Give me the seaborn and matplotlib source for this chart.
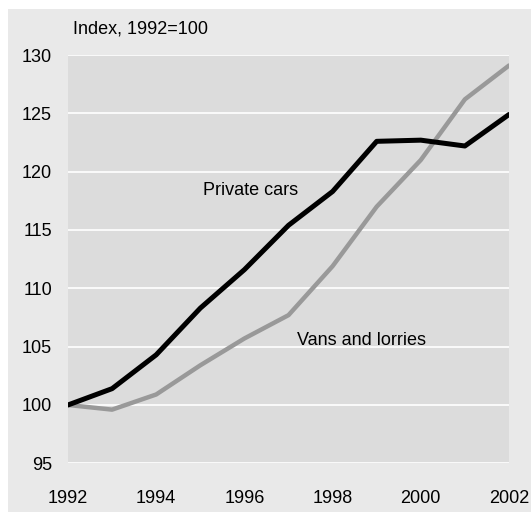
import pandas as pd
import matplotlib.pyplot as plt
import matplotlib.patches as mpatches
import seaborn as sns

# Datos (indice, 1992=100)
years = [1992, 1993, 1994, 1995, 1996, 1997, 1998, 1999, 2000, 2001, 2002]
private_cars = [100, 101.4, 104.3, 108.3, 111.6, 115.4, 118.3, 122.6, 122.7, 122.2, 124.9]
vans_lorries = [100, 99.6, 100.9, 103.4, 105.7, 107.7, 111.9, 117.0, 121.0, 126.2, 129.1]
x_ticks = [1992, 1994, 1996, 1998, 2000, 2002]
y_ticks = [95, 100, 105, 110, 115, 120, 125, 130]

df = pd.DataFrame({"Year": years, "Private cars": private_cars, "Vans and lorries": vans_lorries})

sns.set_style("white", {"axes.facecolor": "#dcdcdc"})
plt.rcParams["font.family"] = ["Liberation Sans", "DejaVu Sans"]
plt.rcParams["text.color"] = "black"

fig = plt.figure(figsize=(5.31, 5.12), dpi=100)
fig.patch.set_facecolor("white")
# Fondo gris exterior
fig.patches.append(mpatches.Rectangle((8 / 531, 0), 1 - 8 / 531, 1 - 9 / 512,
                                      transform=fig.transFigure, facecolor="#e9e9e9",
                                      edgecolor="none", zorder=-10))

ax = fig.add_axes([68 / 531, (512 - 463.3) / 512, (509 - 68) / 531, (463.3 - 55) / 512])

sns.lineplot(data=df, x="Year", y="Vans and lorries", color="#999999", linewidth=3.2, ax=ax)
sns.lineplot(data=df, x="Year", y="Private cars", color="black", linewidth=3.6, ax=ax)

ax.set_xlim(1992, 2002)
ax.set_ylim(95, 130)
ax.set_xticks(x_ticks)
ax.set_yticks(y_ticks)
ax.set_xlabel("")
ax.set_ylabel("")
ax.grid(axis="y", color="white", linewidth=1.2)
ax.set_axisbelow(True)
for s in ax.spines.values():
    s.set_visible(False)
ax.tick_params(axis="both", length=0, labelsize=13, colors="black")
ax.tick_params(axis="y", pad=11.5)
ax.tick_params(axis="x", pad=19)

ax.text(1995.06, 118.4, "Private cars", fontsize=13, ha="left", va="center")
ax.text(1997.2, 105.5, "Vans and lorries", fontsize=13, ha="left", va="center")
fig.text(73 / 531, 1 - 29 / 512, "Index, 1992=100", fontsize=13, ha="left", va="center")

plt.savefig("out.png", dpi=100)
plt.close()
